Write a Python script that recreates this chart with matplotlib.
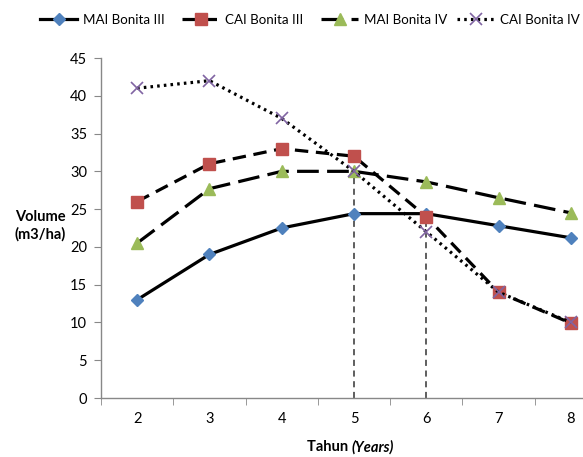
import matplotlib
matplotlib.use("Agg")
import matplotlib.pyplot as plt

plt.rcParams['font.family'] = ['Lato', 'DejaVu Sans']

years = [2, 3, 4, 5, 6, 7, 8]
mai_iii = [13.0, 19.0, 22.5, 24.4, 24.4, 22.8, 21.2]
cai_iii = [26.0, 31.0, 33.0, 32.0, 24.0, 14.0, 9.9]
mai_iv = [20.5, 27.7, 30.0, 30.0, 28.6, 26.5, 24.5]
cai_iv = [41.0, 42.0, 37.0, 30.0, 22.0, 14.0, 10.0]
series_names = ["MAI Bonita III", "CAI Bonita III", "MAI Bonita IV", "CAI Bonita IV"]
y_ticks = [0, 5, 10, 15, 20, 25, 30, 35, 40, 45]
vline_x = [5, 6]
vline_top = [30.0, 24.0]

W, H = 583, 457
fig = plt.figure(figsize=(W / 100, H / 100), dpi=100)
ax = fig.add_axes([101 / W, (H - 398) / H, 506 / W, 340 / H])

lw = 2.3
blue, red, green, purple = '#4F81BD', '#C0504D', '#9BBB59', '#8064A2'

h1, = ax.plot(years, mai_iii, color='black', lw=lw, marker='D', ms=6.5,
              mfc=blue, mec=blue, label=series_names[0], zorder=3)
h2, = ax.plot(years, cai_iii, color='black', lw=lw, dashes=(4.2, 2.4), marker='s', ms=9,
              mfc=red, mec=red, label=series_names[1], zorder=3)
h3, = ax.plot(years, mai_iv, color='black', lw=lw, dashes=(6.8, 2.6), marker='^', ms=9,
              mfc=green, mec=green, label=series_names[2], zorder=3)
h4, = ax.plot(years, cai_iv, color='black', lw=lw, dashes=(0.8, 1.3), marker='x', ms=8,
              mew=1.2, mfc=purple, mec=purple, label=series_names[3], zorder=4)

for xv, yt in zip(vline_x, vline_top):
    ax.plot([xv, xv], [0, yt], color='#333333', lw=1.1, dashes=(4, 3), zorder=2)

ax.set_xlim(1.5, 8.5)
ax.set_ylim(0, 45)
ax.set_yticks(y_ticks)
ax.set_xticks(years)
ax.set_xticks([x + 0.5 for x in [1] + years], minor=True)
ax.tick_params(axis='x', which='major', length=0, pad=10, labelsize=10.5)
ax.tick_params(axis='x', which='minor', length=5, color='#888888', direction='out')
ax.tick_params(axis='y', length=5, color='#888888', direction='out', labelsize=10.5, pad=5)
for s in ['top', 'right']:
    ax.spines[s].set_visible(False)
for s in ['left', 'bottom']:
    ax.spines[s].set_color('#888888')
    ax.spines[s].set_linewidth(1.0)

fig.text(40 / W, 1 - 226 / H, "Volume\n(m3/ha)", ha='center', va='center',
         fontsize=10.5, fontweight='bold', linespacing=1.3)
fig.text(352 / W, 1 - 447 / H, "Tahun ", ha='right', va='center',
         fontsize=10.5, fontweight='bold')
fig.text(352 / W, 1 - 447 / H, "(Years)", ha='left', va='center',
         fontsize=10.5, fontweight='bold', fontstyle='italic')

# one legend entry per position, as in the reference
legend_fs = 9.6
legend_x = [40, 182, 321, 457]
for h, lx in zip([h1, h2, h3, h4], legend_x):
    fig.legend(handles=[h], loc='center left', bbox_to_anchor=(lx / W, 1 - 20 / H),
               frameon=False, fontsize=legend_fs, handlelength=2.8, handletextpad=0.4,
               borderpad=0, borderaxespad=0)

fig.savefig('out.png', dpi=100)
